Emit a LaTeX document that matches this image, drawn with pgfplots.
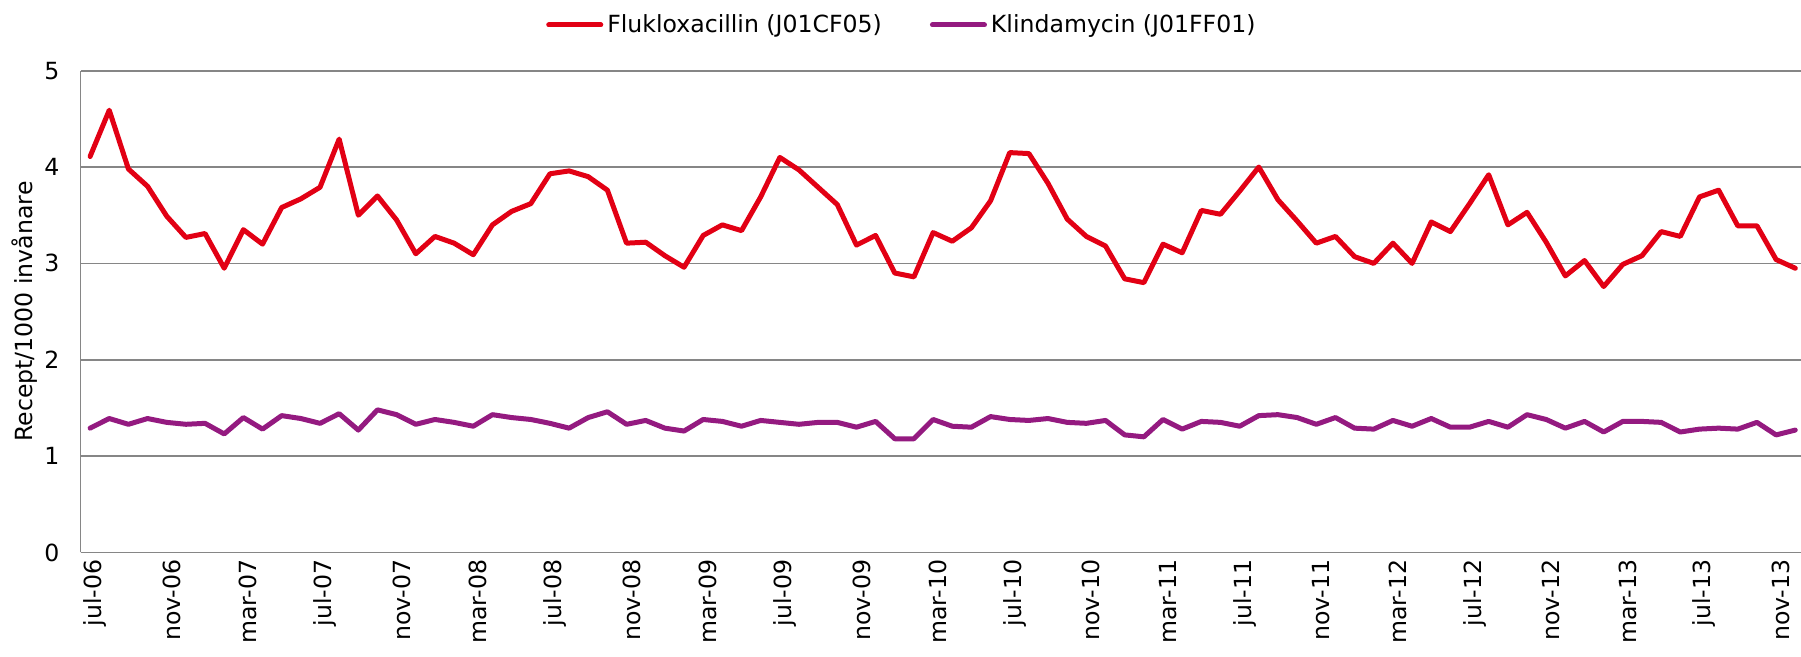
\documentclass[border=0pt]{standalone}
\usepackage{pgfplots}
\pgfplotsset{compat=1.18}
\usepackage{pgfplotstable}
\usepackage{fontspec}
\setmainfont{DejaVu Sans}
\usetikzlibrary{calc}
\definecolor{fluRed}{RGB}{226,0,20}
\definecolor{kliPur}{RGB}{148,26,128}
\definecolor{gridGray}{RGB}{134,134,134}

\pgfplotstableread{
i v
0 4.11
1 4.59
2 3.98
3 3.80
4 3.49
5 3.27
6 3.31
7 2.95
8 3.35
9 3.20
10 3.58
11 3.67
12 3.79
13 4.29
14 3.50
15 3.70
16 3.45
17 3.10
18 3.28
19 3.21
20 3.09
21 3.40
22 3.54
23 3.62
24 3.93
25 3.96
26 3.90
27 3.76
28 3.21
29 3.22
30 3.08
31 2.96
32 3.29
33 3.40
34 3.34
35 3.69
36 4.10
37 3.97
38 3.79
39 3.61
40 3.19
41 3.29
42 2.90
43 2.86
44 3.32
45 3.23
46 3.37
47 3.65
48 4.15
49 4.14
50 3.83
51 3.46
52 3.28
53 3.18
54 2.84
55 2.80
56 3.20
57 3.11
58 3.55
59 3.51
60 3.75
61 4.00
62 3.66
63 3.44
64 3.21
65 3.28
66 3.07
67 3.00
68 3.21
69 3.00
70 3.43
71 3.33
72 3.62
73 3.92
74 3.40
75 3.53
76 3.22
77 2.87
78 3.03
79 2.76
80 2.99
81 3.08
82 3.33
83 3.28
84 3.69
85 3.76
86 3.39
87 3.39
88 3.04
89 2.95
}\flu

\pgfplotstableread{
i v
0 1.29
1 1.39
2 1.33
3 1.39
4 1.35
5 1.33
6 1.34
7 1.23
8 1.40
9 1.28
10 1.42
11 1.39
12 1.34
13 1.44
14 1.27
15 1.48
16 1.43
17 1.33
18 1.38
19 1.35
20 1.31
21 1.43
22 1.40
23 1.38
24 1.34
25 1.29
26 1.40
27 1.46
28 1.33
29 1.37
30 1.29
31 1.26
32 1.38
33 1.36
34 1.31
35 1.37
36 1.35
37 1.33
38 1.35
39 1.35
40 1.30
41 1.36
42 1.18
43 1.18
44 1.38
45 1.31
46 1.30
47 1.41
48 1.38
49 1.37
50 1.39
51 1.35
52 1.34
53 1.37
54 1.22
55 1.20
56 1.38
57 1.28
58 1.36
59 1.35
60 1.31
61 1.42
62 1.43
63 1.40
64 1.33
65 1.40
66 1.29
67 1.28
68 1.37
69 1.31
70 1.39
71 1.30
72 1.30
73 1.36
74 1.30
75 1.43
76 1.38
77 1.29
78 1.36
79 1.25
80 1.36
81 1.36
82 1.35
83 1.25
84 1.28
85 1.29
86 1.28
87 1.35
88 1.22
89 1.27
}\kli

\begin{document}
\begin{tikzpicture}
\begin{axis}[
  name=ax,
  scale only axis,
  width=860pt, height=240.8pt,
  xmin=-0.5, xmax=89.3,
  ymin=0, ymax=5,
  ytick={0,1,2,3,4,5},
  xtick={0,4,...,88},
  xticklabels={jul-06,nov-06,mar-07,jul-07,nov-07,mar-08,jul-08,nov-08,mar-09,jul-09,nov-09,mar-10,jul-10,nov-10,mar-11,jul-11,nov-11,mar-12,jul-12,nov-12,mar-13,jul-13,nov-13},
  axis x line*=bottom, axis y line*=left,
  axis line style={gridGray, line width=0.9pt, -},
  major tick length=0pt,
  ymajorgrids,
  grid style={gridGray, line width=0.9pt},
  tick label style={font=\fontsize{11.8pt}{13.5pt}\selectfont, black},
  /pgf/number format/assume math mode=true,
  yticklabel style={xshift=-7pt},
  xticklabel style={rotate=90, anchor=east, yshift=-2.5pt},
  ylabel={Recept/1000 invånare},
  ylabel style={at={(axis description cs:-0.0323,0.5)}, anchor=center, font=\fontsize{11.8pt}{13.5pt}\selectfont},
  legend columns=2,
  legend style={at={(axis description cs:0.478,1.095)}, anchor=center, draw=none, fill=none,
    font=\fontsize{11.8pt}{13.5pt}\selectfont,
    /tikz/every even column/.append style={column sep=22pt},
    /tikz/every odd column/.append style={column sep=0pt},
    inner sep=0pt},
  legend image code/.code={\draw[#1, line width=2.5pt] (0pt,0pt) -- (26pt,0pt);},
  every axis plot/.append style={line width=2.5pt, line join=round, line cap=round},
]
\addplot[fluRed, mark=none] table[x=i, y=v] {\flu};
\addlegendentry{Flukloxacillin (J01CF05)}
\addplot[kliPur, mark=none] table[x=i, y=v] {\kli};
\addlegendentry{Klindamycin (J01FF01)}
\end{axis}
\pgfresetboundingbox
\path ($(ax.south west)+(-40.25pt,-51.85pt)$) rectangle ($(ax.north east)+(0pt,35.35pt)$);
\end{tikzpicture}
\end{document}
